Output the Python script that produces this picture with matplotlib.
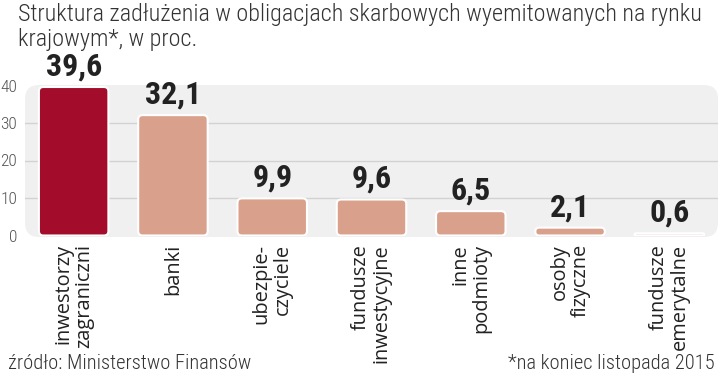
import matplotlib
matplotlib.use("Agg")
import matplotlib.pyplot as plt
from matplotlib.patches import FancyBboxPatch

W, H = 720, 376

categories = ["inwestorzy\nzagraniczni", "banki", "ubezpie-\nczyciele",
              "fundusze\ninwestycyjne", "inne\npodmioty", "osoby\nfizyczne",
              "fundusze\nemerytalne"]
values = [39.6, 32.1, 9.9, 9.6, 6.5, 2.1, 0.6]
value_labels = ["39,6", "32,1", "9,9", "9,6", "6,5", "2,1", "0,6"]
yticks = [0, 10, 20, 30, 40]

title = "Struktura zadłużenia w obligacjach skarbowych wyemitowanych na rynku\nkrajowym*, w proc."
source = "źródło: Ministerstwo Finansów"
note = "*na koniec listopada 2015"

COND = ["Roboto Condensed", "DejaVu Sans"]
plt.rcParams['font.family'] = COND

RED = "#a30d2b"
SALMON = "#d9a08b"
TXT = "#333333"

fig = plt.figure(figsize=(W / 100, H / 100), dpi=100)

def px(x, y):
    # pixel (top-left origin) -> figure fraction
    return x / W, 1 - y / H

left, bottom = px(25, 235.5)
_, top = px(0, 85.5)
ax = fig.add_axes([left, bottom, (718 - 25) / W, top - bottom])
ax.set_facecolor("none")
ax.set_xlim(-0.49, 6.49)
ax.set_ylim(0, 40)

# grey panel behind the plot, drawn in inches so corners stay round
panel = FancyBboxPatch((25 / 100, (H - 237) / 100), (718 - 25) / 100, (237 - 85) / 100,
                       boxstyle="round,pad=0,rounding_size=0.14",
                       transform=fig.dpi_scale_trans, facecolor="#f0f0f0",
                       edgecolor="none", zorder=0, clip_on=False)
ax.add_patch(panel)

for s in ax.spines.values():
    s.set_visible(False)
ax.set_yticks(yticks)
ax.set_yticklabels([str(t) for t in yticks], color="#555555", fontsize=12.5,
                   fontweight="light")
ax.tick_params(axis="y", length=0, pad=5.5)
ax.set_xticks([])
for t in yticks[1:-1]:
    ax.axhline(t, color="#d2d2d2", linewidth=1, zorder=1)

x = list(range(len(values)))
colors = [RED] + [SALMON] * (len(values) - 1)
bars = ax.bar(x, values, width=0.7, color="none", edgecolor="none")

# rounded bars: aspect between x-units and y-units in pixels
xpp = (6.49 + 0.49) / (718 - 25)
ypp = 40 / 150.0
aspect = ypp / xpp
for b, c in zip(bars, colors):
    bx, by = b.get_x(), b.get_y()
    bw, bh = b.get_width(), b.get_height()
    r = min(0.045, bh / aspect / 2)
    p = FancyBboxPatch((bx, by), bw, bh,
                       boxstyle="round,pad=0,rounding_size=%f" % r,
                       mutation_aspect=aspect, facecolor=c,
                       edgecolor="white", linewidth=1.5, zorder=3)
    ax.add_patch(p)

for xi, v, lab in zip(x, values, value_labels):
    ax.annotate(lab, (xi, v), xytext=(0, 4), textcoords="offset points",
                ha="center", va="bottom", fontsize=23, fontweight="bold",
                color="#222222")

for xi, cat in zip(x, categories):
    ax.annotate(cat, (xi, 0), xytext=(0, -6), textcoords="offset points",
                ha="center", va="top", rotation=90, multialignment="right",
                fontsize=14.4, color="#222222", linespacing=1.05,
                family=["Open Sans", "DejaVu Sans"])

fig.text(18 / W, 1 - 3 / H, title, ha="left", va="top", fontsize=17.4,
         color=TXT, linespacing=1.1, fontweight="light")
fig.text(8 / W, 1 - 369 / H, source, ha="left", va="baseline",
         fontsize=14.8, color=TXT, fontweight="light")
fig.text(715 / W, 1 - 369 / H, note, ha="right", va="baseline",
         fontsize=14.8, color=TXT, fontweight="light")

fig.savefig("out.png", dpi=100, facecolor="white")
